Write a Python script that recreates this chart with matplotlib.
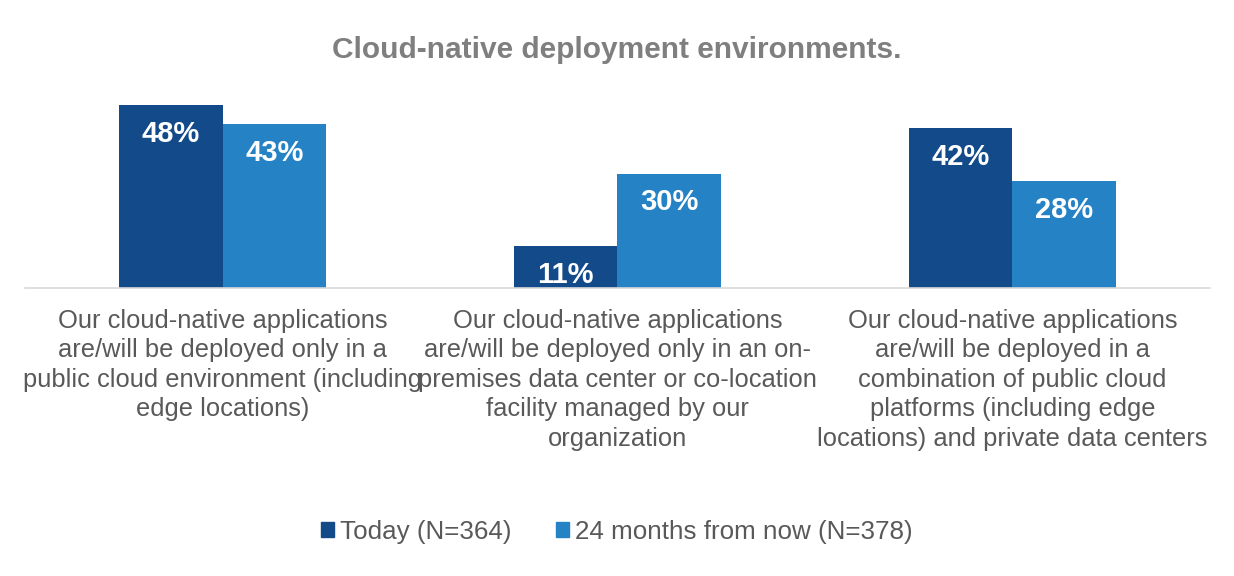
import matplotlib
matplotlib.use("Agg")
import matplotlib.pyplot as plt
import numpy as np
from matplotlib.patches import Patch

categories = [
    "Our cloud-native applications\nare/will be deployed only in a\npublic cloud environment (including\nedge locations)",
    "Our cloud-native applications\nare/will be deployed only in an on-\npremises data center or co-location\nfacility managed by our\norganization",
    "Our cloud-native applications\nare/will be deployed in a\ncombination of public cloud\nplatforms (including edge\nlocations) and private data centers",
]
series_names = ["Today (N=364)", "24 months from now (N=378)"]
today = [48, 11, 42]
future = [43, 30, 28]
colors = ["#124A8A", "#2582C5"]

plt.rcParams['font.family'] = ['Liberation Sans', 'DejaVu Sans']

fig = plt.figure(figsize=(12.34, 5.76), dpi=100)
ax = fig.add_axes([0.0203, 0.5, 0.9602, 0.3307])

x = np.arange(len(categories))
w = 0.262
for vals, off, c in [(today, -w / 2, colors[0]), (future, w / 2, colors[1])]:
    bars = ax.bar(x + off, vals, width=w, color=c)
    for b, v in zip(bars, vals):
        ax.annotate(f"{v}%", (b.get_x() + b.get_width() / 2, v), xytext=(0, -10.5),
                    textcoords="offset points", ha="center", va="top",
                    color="white", fontsize=21, fontweight="bold")

ax.set_xlim(-0.5, 2.5)
ax.set_ylim(0, 50)
ax.set_yticks([])
ax.set_xticks(x)
ax.set_xticklabels(categories, fontsize=18.4, color="#595959", linespacing=1.29)
ax.tick_params(axis="x", length=0, pad=15)
for s in ["top", "right", "left"]:
    ax.spines[s].set_visible(False)
ax.spines["bottom"].set_color("#D9D9D9")
ax.spines["bottom"].set_linewidth(1.2)

fig.text(0.5, 1 - 58 / 576, "Cloud-native deployment environments.", ha="center", va="baseline",
         fontsize=21.5, fontweight="bold", color="#7F7F7F")

handles = [Patch(color=c) for c in colors]
fig.legend(handles, series_names, loc="center", bbox_to_anchor=(0.5, 0.077), ncol=2,
           frameon=False, fontsize=18.7, labelcolor="#595959", handlelength=0.5,
           handleheight=0.5, handletextpad=0.25, columnspacing=1.7)

fig.savefig("out.png", dpi=100)
